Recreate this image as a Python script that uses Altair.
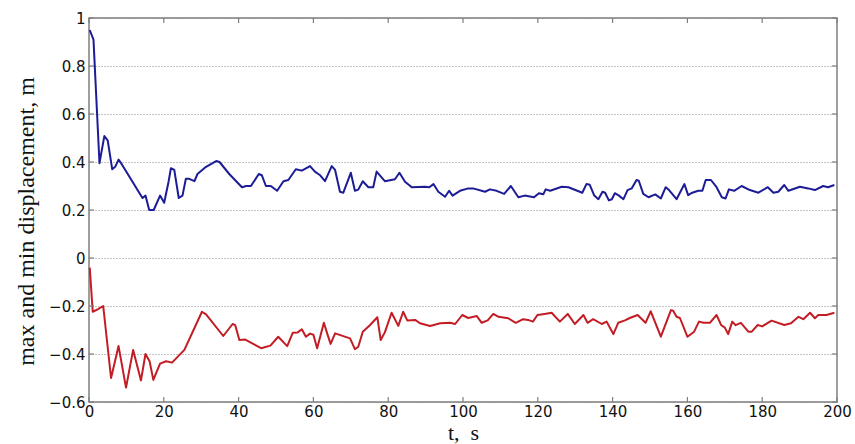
import altair as alt
import pandas as pd

# ---- data ----
t_max = [0.2, 1.2, 2.8, 4.1, 5.0, 6.2, 7.0, 7.9, 8.8, 14.3, 15.1, 16.1, 17.3, 19.0, 20.1, 21.3, 21.9,
         22.8, 24.0, 25.0, 25.9, 26.8, 28.2, 29.0, 31.3, 34.0, 34.9, 37.5, 40.9, 42.0, 43.3, 45.4,
         46.2, 47.3, 48.6, 50.3, 52.0, 53.3, 55.3, 56.9, 59.1, 60.4, 61.7, 63.1, 64.9, 65.8, 67.1,
         68.0, 70.0, 71.1, 72.0, 73.2, 74.7, 76.0, 76.9, 79.1, 81.8, 83.0, 84.5, 86.3, 89.8, 91.0,
         92.1, 93.4, 95.2, 96.3, 97.2, 99.2, 101.4, 102.7, 105.9, 107.2, 109.0, 111.0, 112.8, 114.8,
         116.5, 119.0, 120.3, 121.5, 122.1, 123.3, 126.4, 128.2, 131.9, 133.0, 133.9, 135.1, 136.2,
         137.3, 138.0, 139.0, 139.8, 140.6, 141.7, 142.9, 144.0, 145.1, 146.4, 147.0, 148.2, 149.6,
         151.4, 152.9, 154.2, 155.1, 157.1, 159.2, 160.2, 161.3, 162.9, 164.0, 164.9, 166.3, 167.8,
         169.2, 170.2, 171.1, 172.5, 174.5, 176.7, 179.0, 181.5, 183.0, 184.3, 185.9, 187.0, 190.1,
         192.3, 194.1, 196.3, 197.6, 199.3]
y_max = [0.95, 0.91, 0.395, 0.508, 0.49, 0.37, 0.38, 0.41, 0.39, 0.25, 0.26, 0.20, 0.20, 0.26, 0.23,
         0.32, 0.374, 0.367, 0.25, 0.26, 0.33, 0.33, 0.32, 0.35, 0.38, 0.404, 0.40, 0.35, 0.295, 0.30,
         0.30, 0.35, 0.345, 0.30, 0.30, 0.28, 0.32, 0.325, 0.37, 0.364, 0.383, 0.36, 0.346, 0.32,
         0.383, 0.367, 0.276, 0.272, 0.355, 0.28, 0.285, 0.32, 0.295, 0.295, 0.36, 0.32, 0.328,
         0.355, 0.318, 0.295, 0.297, 0.295, 0.308, 0.276, 0.255, 0.28, 0.26, 0.28, 0.29, 0.29,
         0.276, 0.286, 0.28, 0.267, 0.30, 0.253, 0.26, 0.253, 0.27, 0.266, 0.286, 0.28, 0.297,
         0.295, 0.272, 0.308, 0.305, 0.26, 0.245, 0.276, 0.272, 0.24, 0.245, 0.27, 0.26, 0.245,
         0.283, 0.29, 0.325, 0.322, 0.267, 0.253, 0.265, 0.248, 0.295, 0.283, 0.245, 0.308, 0.262,
         0.272, 0.28, 0.28, 0.325, 0.325, 0.295, 0.253, 0.248, 0.286, 0.28, 0.30, 0.283, 0.272,
         0.295, 0.272, 0.276, 0.304, 0.28, 0.297, 0.29, 0.283, 0.30, 0.295, 0.304]

t_min = [0.2, 1.0, 2.3, 3.8, 5.9, 7.9, 9.9, 11.8, 13.9, 15.1, 16.2, 17.2, 19.0, 20.6, 22.2, 25.5,
         30.2, 31.3, 35.9, 38.4, 39.1, 40.2, 41.8, 46.0, 48.5, 50.6, 53.0, 54.5, 55.8, 56.9, 58.0,
         59.1, 60.0, 61.0, 62.8, 63.7, 64.6, 65.8, 69.8, 71.1, 72.0, 73.2, 75.1, 77.1, 78.0, 79.1,
         80.9, 82.7, 84.0, 85.1, 87.2, 88.5, 91.2, 93.9, 96.5, 97.9, 99.8, 101.4, 103.7, 105.0,
         106.6, 108.1, 109.5, 112.1, 114.1, 116.1, 117.4, 118.7, 119.9, 121.8, 123.7, 125.9, 128.0,
         129.9, 132.2, 133.3, 134.8, 137.1, 138.4, 140.2, 141.5, 143.3, 144.6, 146.7, 148.8, 150.2,
         152.9, 155.6, 156.2, 157.1, 158.0, 160.0, 161.8, 163.1, 164.3, 166.0, 167.8, 169.0, 170.0,
         170.9, 172.0, 172.9, 174.3, 176.3, 177.2, 178.8, 180.0, 182.5, 185.9, 187.7, 189.7, 191.0,
         192.8, 194.1, 195.0, 197.2, 199.3]
y_min = [-0.04, -0.224, -0.214, -0.20, -0.50, -0.367, -0.54, -0.383, -0.51, -0.40, -0.43, -0.508,
         -0.44, -0.43, -0.436, -0.383, -0.224, -0.235, -0.325, -0.275, -0.28, -0.342, -0.34, -0.376,
         -0.365, -0.328, -0.367, -0.311, -0.31, -0.297, -0.328, -0.315, -0.32, -0.376, -0.27,
         -0.315, -0.358, -0.314, -0.335, -0.38, -0.37, -0.307, -0.28, -0.247, -0.342, -0.31, -0.228,
         -0.283, -0.224, -0.26, -0.258, -0.272, -0.283, -0.272, -0.27, -0.275, -0.2375, -0.25,
         -0.242, -0.27, -0.26, -0.233, -0.245, -0.251, -0.27, -0.255, -0.258, -0.265, -0.2375,
         -0.233, -0.228, -0.265, -0.233, -0.275, -0.2375, -0.27, -0.255, -0.275, -0.265, -0.317,
         -0.27, -0.26, -0.25, -0.2375, -0.27, -0.222, -0.328, -0.217, -0.22, -0.245, -0.25, -0.328,
         -0.307, -0.265, -0.27, -0.27, -0.2375, -0.279, -0.29, -0.317, -0.265, -0.28, -0.27, -0.307,
         -0.307, -0.279, -0.285, -0.261, -0.279, -0.272, -0.245, -0.255, -0.228, -0.251, -0.2375,
         -0.2375, -0.228]

series_names = ["max", "min"]
x_ticks = [0, 20, 40, 60, 80, 100, 120, 140, 160, 180, 200]
y_ticks = [-0.6, -0.4, -0.2, 0, 0.2, 0.4, 0.6, 0.8, 1]

# ---- layout ----
W, H = 748, 384
FRAME = "#7f7f7f"

df = pd.concat([
    pd.DataFrame({"t": t_max, "v": y_max, "s": series_names[0]}),
    pd.DataFrame({"t": t_min, "v": y_min, "s": series_names[1]}),
])
xt = pd.DataFrame({"t": x_ticks})
yt = pd.DataFrame({"v": y_ticks})

xs = alt.Scale(domain=[0, 200], nice=False, zero=False)
ys = alt.Scale(domain=[-0.6, 1], nice=False, zero=False)

x_axis = alt.Axis(
    values=x_ticks, title="t,\u00a0 s", grid=False, ticks=False, domain=False,
    labelPadding=2, labelFlush=False, titleX=374, titleY=37,
    titleBaseline="alphabetic", titleAlign="center", titleFontSize=22)
y_axis = alt.Axis(
    values=y_ticks, format="~g", title="max and min displacement, m", grid=True,
    ticks=False, domain=False, labelPadding=4, labelFlush=False,
    titleAngle=270, titleX=-56, titleY=203,
    titleBaseline="alphabetic", titleAlign="center", titleFontSize=24)

lines = alt.Chart(df).mark_line(strokeWidth=2, strokeJoin="round").encode(
    x=alt.X("t:Q", scale=xs, axis=x_axis),
    y=alt.Y("v:Q", scale=ys, axis=y_axis),
    color=alt.Color("s:N", scale=alt.Scale(domain=series_names, range=["#1c1c96", "#c21d24"]),
                    legend=None),
)

tick_x_bottom = alt.Chart(xt).mark_rule(color=FRAME, strokeWidth=1.2).encode(
    x=alt.X("t:Q", scale=xs, axis=x_axis), y=alt.value(H), y2=alt.value(H - 5))
tick_x_top = alt.Chart(xt).mark_rule(color=FRAME, strokeWidth=1.2).encode(
    x=alt.X("t:Q", scale=xs, axis=x_axis), y=alt.value(0), y2=alt.value(5))
tick_y_left = alt.Chart(yt).mark_rule(color=FRAME, strokeWidth=1.2).encode(
    y=alt.Y("v:Q", scale=ys, axis=y_axis), x=alt.value(0), x2=alt.value(5))
tick_y_right = alt.Chart(yt).mark_rule(color=FRAME, strokeWidth=1.2).encode(
    y=alt.Y("v:Q", scale=ys, axis=y_axis), x=alt.value(W), x2=alt.value(W - 5))

chart = alt.layer(lines, tick_x_bottom, tick_x_top, tick_y_left, tick_y_right).properties(
    width=W, height=H,
    padding={"left": 89, "top": 18, "right": 18, "bottom": 42},
    autosize=alt.AutoSizeParams(type="none"),
    background="white",
).configure_view(
    stroke=FRAME, strokeWidth=1.5
).configure_axis(
    labelFont="DejaVu Sans", labelFontSize=15, labelColor="#111111",
    titleFont="Liberation Serif", titleFontWeight="normal", titleColor="#111111",
    gridColor="#8a8a8a", gridDash=[1, 2], gridWidth=1,
)

chart.save("out.html", embed_options={"renderer": "svg", "actions": False})
